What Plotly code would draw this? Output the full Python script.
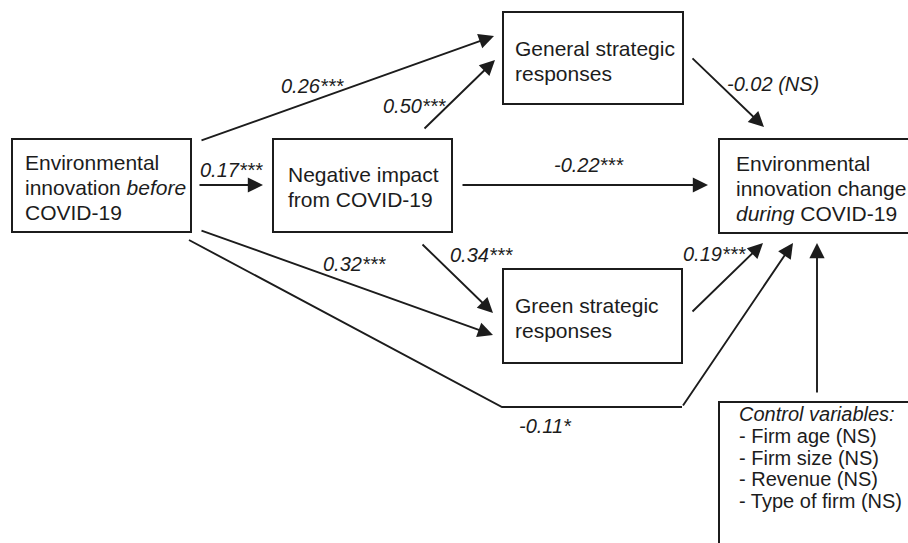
import plotly.graph_objects as go

# ---- diagram content (data) ----
node_lines = {
    "prior":   ["Environmental", "innovation <i>before</i>", "COVID-19"],
    "impact":  ["Negative impact", "from COVID-19"],
    "general": ["General strategic", "responses"],
    "change":  ["Environmental", "innovation change", "<i>during</i> COVID-19"],
    "green":   ["Green strategic", "responses"],
    "control": ["<i>Control variables:</i>", "- Firm age (NS)", "- Firm size (NS)",
                "- Revenue (NS)", "- Type of firm (NS)"],
}
path_names = ["prior→general", "impact→general", "general→change", "prior→impact",
              "impact→change", "prior→green", "impact→green", "green→change",
              "prior→change (direct)", "control→change"]
path_coefs = ["0.26***", "0.50***", "-0.02 (NS)", "0.17***", "-0.22***",
              "0.32***", "0.34***", "0.19***", "-0.11*", ""]

# ---- geometry (layout, pixel coordinates of the 908x543 window) ----
W, H = 908, 543
boxes = {  # x0, y0, x1, y1 (open boxes extend past the canvas edge)
    "prior":   (12, 139, 191, 232),
    "impact":  (273, 139, 452, 232),
    "general": (503, 12, 683, 104),
    "change":  (719, 139, 930, 233),
    "green":   (503, 269, 682, 363),
    "control": (719, 402, 930, 560),
}
text_pos = {  # left x, line centre ys
    "prior":   (23, [161, 186, 211]),
    "impact":  (286, [173.5, 198.5]),
    "general": (513, [47, 72]),
    "change":  (734, [162, 187, 212]),
    "green":   (513, [304, 329]),
    "control": (737, [413, 435, 456.5, 478, 499.5]),
}
arrows = [  # tail (x, y) -> tip (x, y)
    ((200, 141), (494, 36)),
    ((423, 130), (495, 60)),
    ((691, 57), (764, 127)),
    ((198, 185), (263, 185)),
    ((461, 185), (708, 185)),
    ((200, 230), (493, 335)),
    ((421, 243), (493, 313)),
    ((691, 313), (763, 243)),
    ((682, 407), (793, 243)),
    ((817, 394), (817, 243)),
]
label_pos = [(312, 85), (414, 104.5), (773, 82.5), (231, 168.5), (588.5, 164),
             (354, 262.5), (481, 254), (714, 253), (545, 425), (0, 0)]
bottom_path = [(189, 240), (502, 407), (682, 407)]

INK = "#1c1c1c"
FONT = "Liberation Sans, Arial, sans-serif"
DY = 1.0

fig = go.Figure()

# polyline leg of the direct path
fig.add_trace(go.Scatter(x=[p[0] for p in bottom_path], y=[p[1] for p in bottom_path],
                         mode="lines", line=dict(color=INK, width=1.9),
                         hoverinfo="skip", showlegend=False))

shapes = []
for k, (x0, y0, x1, y1) in boxes.items():
    if x1 > W:
        shapes.append(dict(type="path", xref="x", yref="y",
                           path=f"M {x1} {y0} L {x0} {y0} L {x0} {y1} L {x1} {y1}",
                           line=dict(color=INK, width=2)))
    else:
        shapes.append(dict(type="rect", xref="x", yref="y", x0=x0, y0=y0, x1=x1, y1=y1,
                           line=dict(color=INK, width=2)))

annotations = []
for k, lines in node_lines.items():
    lx, ys = text_pos[k]
    size = 20 if k == "control" else 21
    for txt, yy in zip(lines, ys):
        annotations.append(dict(x=lx, y=yy + DY, xref="x", yref="y", text=txt,
                                showarrow=False, xanchor="left", yanchor="middle",
                                font=dict(family=FONT, size=size, color=INK)))

for (tail, tip) in arrows:
    annotations.append(dict(x=tip[0], y=tip[1], ax=tail[0], ay=tail[1],
                            xref="x", yref="y", axref="x", ayref="y", text="",
                            showarrow=True, arrowhead=2, arrowsize=1.6,
                            arrowwidth=1.9, arrowcolor=INK, standoff=0, startstandoff=0))

for coef, (lx, ly) in zip(path_coefs, label_pos):
    if not coef:
        continue
    annotations.append(dict(x=lx, y=ly + DY, xref="x", yref="y", text=f"<i>{coef}</i>",
                            showarrow=False, xanchor="center", yanchor="middle",
                            font=dict(family=FONT, size=20, color=INK)))

fig.update_layout(
    width=W, height=H, margin=dict(l=0, r=0, t=0, b=0),
    paper_bgcolor="white", plot_bgcolor="white",
    xaxis=dict(range=[0, W], visible=False, fixedrange=True),
    yaxis=dict(range=[H, 0], visible=False, fixedrange=True),
    shapes=shapes, annotations=annotations, showlegend=False,
)
fig.write_html(
    "out.html",
    config={"displayModeBar": False, "staticPlot": True},
    post_script="document.body.style.margin='0';document.body.style.overflow='hidden';",
)
